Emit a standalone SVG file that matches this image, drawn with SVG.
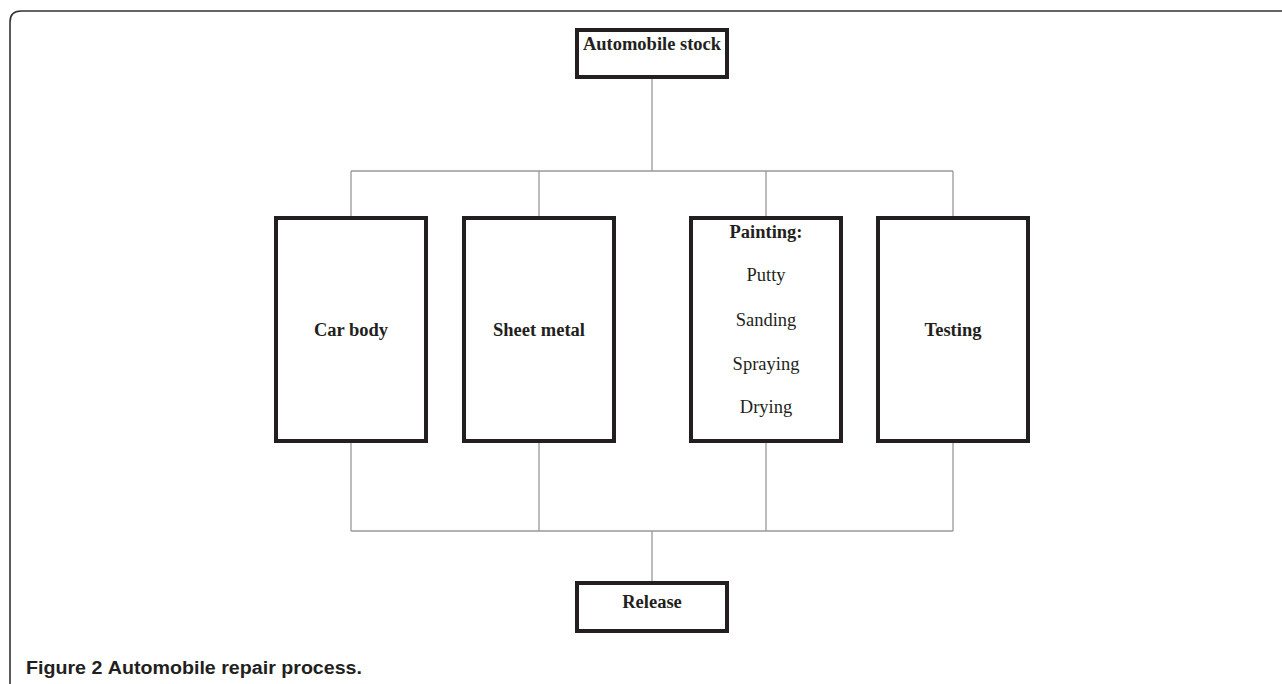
<svg xmlns="http://www.w3.org/2000/svg" width="1282" height="684" viewBox="0 0 1282 684">
<style>
.box{fill:#fff;stroke:#231f20;stroke-width:4}
.conn{fill:none;stroke:#999;stroke-width:1.3}
.t{font-family:"Liberation Serif","Times New Roman",serif;font-size:18.5px;fill:#231f20;text-anchor:middle}
.b{font-weight:bold}
</style>
<rect width="1282" height="684" fill="#fff"/>
<path d="M1290 11 H21 Q10 11 10 22 V692" fill="none" stroke="#333" stroke-width="1.6"/>
<g id="connectors">
<path class="conn" d="M652 79 V171 M351 171 H953 M351 171 V216 M539 171 V216 M766 171 V216 M953 171 V216"/>
<path class="conn" d="M351 443 V531 M539 443 V531 M766 443 V531 M953 443 V531 M351 531 H953 M652 531 V581"/>
</g>
<g id="automobile-stock">
<rect class="box" x="577" y="30" width="150" height="47"/>
<text class="t b" x="652" y="50">Automobile stock</text>
</g>
<g id="car-body">
<rect class="box" x="276" y="218" width="150" height="223"/>
<text class="t b" x="351" y="336">Car body</text>
</g>
<g id="sheet-metal">
<rect class="box" x="464" y="218" width="150" height="223"/>
<text class="t b" x="539" y="336">Sheet metal</text>
</g>
<g id="painting">
<rect class="box" x="691" y="218" width="150" height="223"/>
<text class="t b" x="766" y="238">Painting:</text>
<text class="t" x="766" y="281">Putty</text>
<text class="t" x="766" y="326">Sanding</text>
<text class="t" x="766" y="370">Spraying</text>
<text class="t" x="766" y="413">Drying</text>
</g>
<g id="testing">
<rect class="box" x="878" y="218" width="150" height="223"/>
<text class="t b" x="953" y="336">Testing</text>
</g>
<g id="release">
<rect class="box" x="577" y="583" width="150" height="48"/>
<text class="t b" x="652" y="608">Release</text>
</g>
<text x="26" y="674" font-family="'Liberation Sans',Arial,sans-serif" font-size="18" font-weight="bold" fill="#231f20" textLength="336" lengthAdjust="spacingAndGlyphs">Figure 2 <tspan font-weight="600">Automobile repair process.</tspan></text>
</svg>
